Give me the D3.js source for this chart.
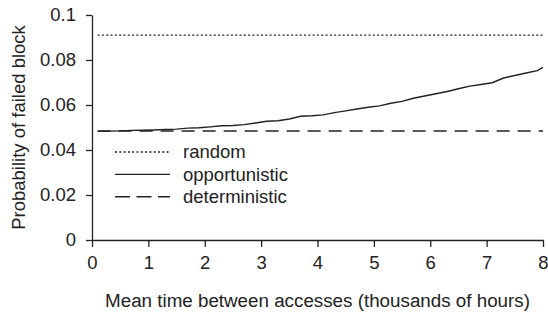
<!DOCTYPE html>
<html>
<head>
<meta charset="utf-8">
<script src="https://cdn.jsdelivr.net/npm/d3@7"></script>
<style>
body{margin:0;background:#fff;}
text{font-family:"Liberation Sans",Arial,Helvetica,sans-serif;fill:#222;}
</style>
</head>
<body>
<div id="chart"></div>
<script>
// data
const xVals=[0.1,0.3,0.5,0.7,0.9,1.1,1.3,1.5,1.7,1.9,2.1,2.3,2.5,2.7,2.9,3.1,3.3,3.5,3.7,3.9,
             4.1,4.3,4.5,4.7,4.9,5.1,5.3,5.5,5.7,5.9,6.1,6.3,6.5,6.7,6.9,7.1,7.3,7.5,7.7,7.9,8.0];
const opportunistic=[0.0483,0.0484,0.0485,0.0487,0.0488,0.0489,0.0491,0.0493,0.0497,0.0499,
                     0.0503,0.0508,0.0509,0.0513,0.0520,0.0528,0.0530,0.0538,0.0550,0.0552,
                     0.0556,0.0566,0.0574,0.0582,0.0590,0.0596,0.0608,0.0616,0.0630,0.0640,
                     0.0650,0.0660,0.0672,0.0684,0.0691,0.0699,0.0720,0.0731,0.0742,0.0753,0.0767];
const randomVal=0.0911;
const deterministicVal=0.0484;
const xTicks=[0,1,2,3,4,5,6,7,8];
const yTicks=[0,0.02,0.04,0.06,0.08,0.1];
const legendNames=["random","opportunistic","deterministic"];
const legendDash=["2,2.3",null,"13,8"];

const width=548, height=314;
const margin={top:15,right:5,bottom:74,left:92};

const svg=d3.select("#chart").append("svg")
  .attr("width",width)
  .attr("height",height);

const x=d3.scaleLinear().domain([0,8]).range([margin.left,width-margin.right]);
const y=d3.scaleLinear().domain([0,0.1]).range([height-margin.bottom,margin.top]);

// axes
const xAxis=svg.append("g")
  .attr("transform","translate(0,"+y(0)+")")
  .call(d3.axisBottom(x).tickValues(xTicks).tickFormat(d3.format("d")).tickSize(7).tickSizeOuter(0).tickPadding(9));
const yAxis=svg.append("g")
  .attr("transform","translate("+x(0)+",0)")
  .call(d3.axisLeft(y).tickValues(yTicks).tickFormat(d=>d===0?"0":String(d)).tickSize(6).tickSizeOuter(0).tickPadding(10));
[xAxis,yAxis].forEach(function(a){
  a.selectAll("path,line").attr("stroke","#222").attr("stroke-width",1.3);
  a.selectAll("text").style("font-size","18.5px").attr("fill","#222");
});

// lines
const line=d3.line().x(d=>x(d[0])).y(d=>y(d[1]));
const xs=[xVals[0],xVals[xVals.length-1]];
svg.append("path")
  .datum(xs.map(v=>[v,randomVal]))
  .attr("d",line).attr("fill","none").attr("stroke","#222").attr("stroke-width",1.3)
  .attr("stroke-dasharray",legendDash[0]);
svg.append("path")
  .datum(xs.map(v=>[v,deterministicVal]))
  .attr("d",line).attr("fill","none").attr("stroke","#222").attr("stroke-width",1.5)
  .attr("stroke-dasharray",legendDash[2]);
svg.append("path")
  .datum(xVals.map((v,i)=>[v,opportunistic[i]]))
  .attr("d",line).attr("fill","none").attr("stroke","#222").attr("stroke-width",1.4);

// legend
const legend=svg.append("g").attr("transform","translate(115,152)");
legendNames.forEach(function(name,i){
  const g=legend.append("g").attr("transform","translate(0,"+(i*22.4)+")");
  g.append("line").attr("x1",0).attr("x2",55).attr("y1",0).attr("y2",0)
    .attr("stroke","#222").attr("stroke-width",1.4)
    .attr("stroke-dasharray",i==2?"15,6.5":legendDash[i]);
  g.append("text").attr("x",68).attr("y",0).attr("dy","0.35em")
    .style("font-size","18.5px").text(name);
});

// axis titles
svg.append("text")
  .attr("x",(x(0)+x(8))/2).attr("y",307)
  .attr("text-anchor","middle").style("font-size","18.8px")
  .text("Mean time between accesses (thousands of hours)");
svg.append("text")
  .attr("transform","translate(25,"+((y(0)+y(0.1))/2)+") rotate(-90)")
  .attr("text-anchor","middle").style("font-size","18.5px")
  .text("Probability of failed block");
</script>
</body>
</html>
